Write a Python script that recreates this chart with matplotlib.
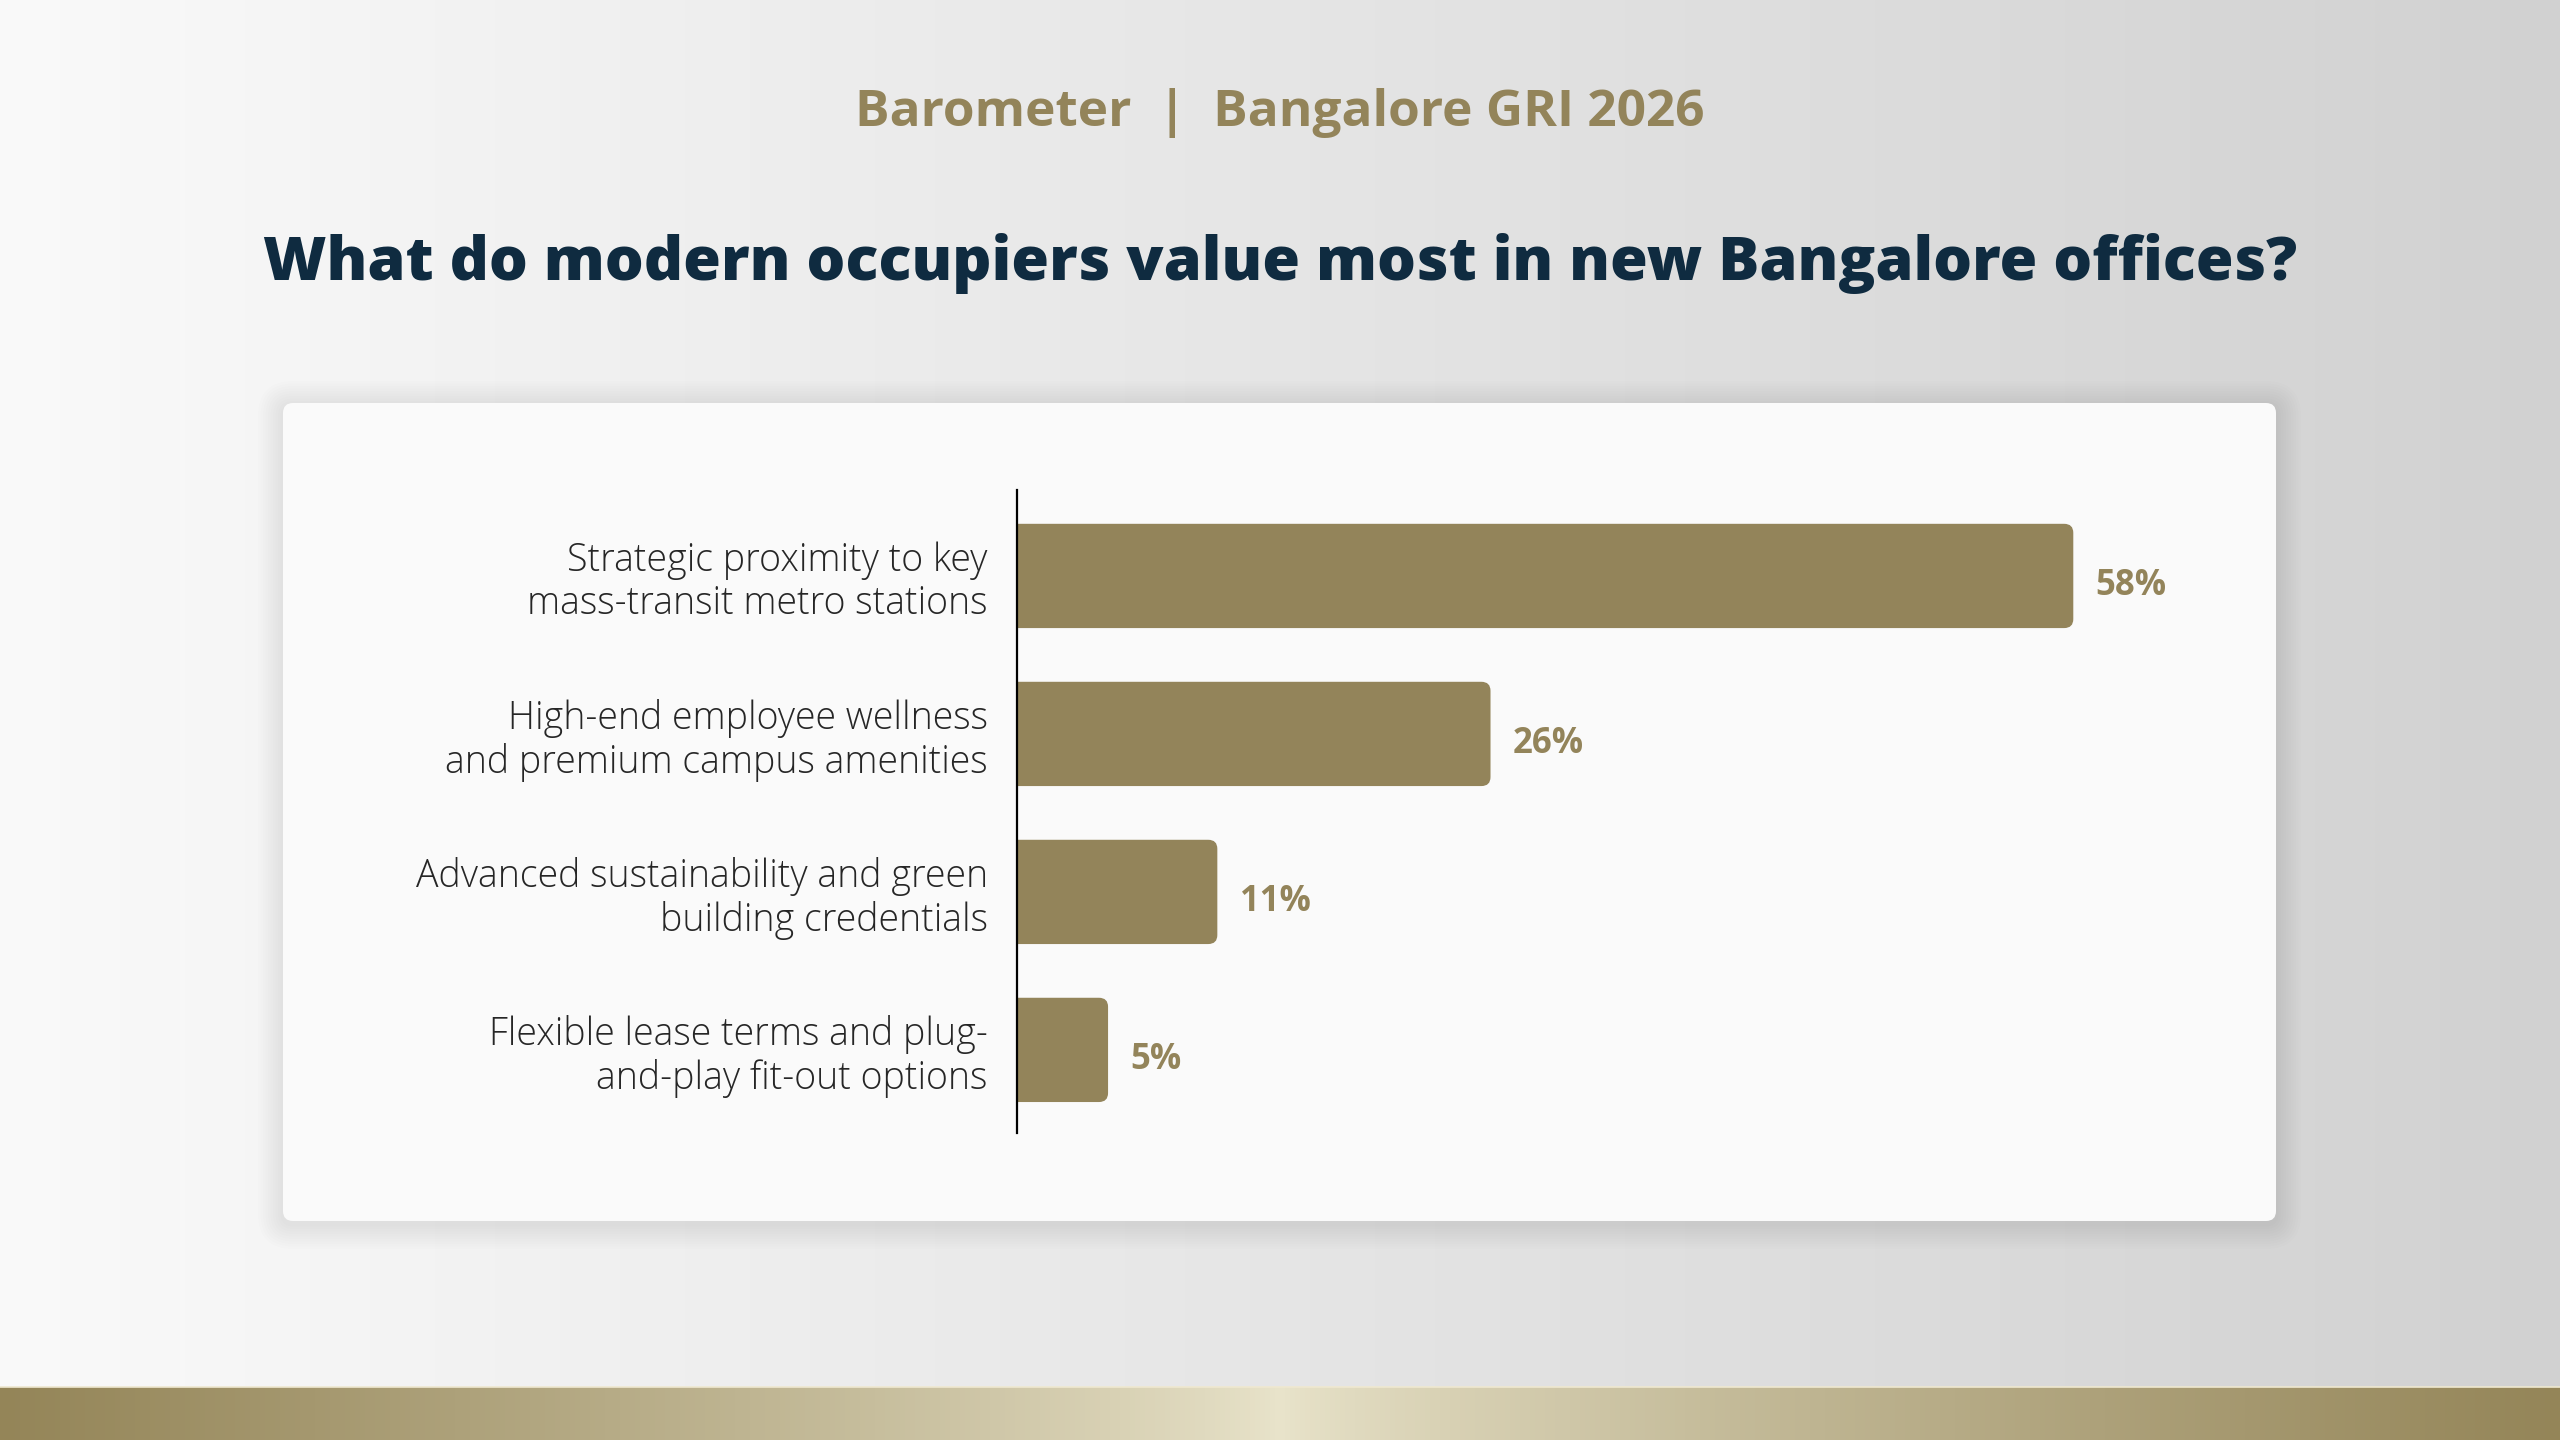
import numpy as np
import matplotlib
matplotlib.use("Agg")
import matplotlib.pyplot as plt
from matplotlib.patches import FancyBboxPatch

# data
categories = [
    "Strategic proximity to key\nmass-transit metro stations",
    "High-end employee wellness\nand premium campus amenities",
    "Advanced sustainability and green\nbuilding credentials",
    "Flexible lease terms and plug-\nand-play fit-out options",
]
values = [58, 26, 11, 5]
value_labels = ["58%", "26%", "11%", "5%"]

subtitle = "Barometer  |  Bangalore GRI 2026"
title = "What do modern occupiers value most in new Bangalore offices?"

GOLD = "#93845A"
NAVY = "#0F2B40"
TEXT = "#262626"
FONT = ["Open Sans", "DejaVu Sans"]

plt.rcParams["font.family"] = FONT

W, H = 2560, 1440
fig = plt.figure(figsize=(25.6, 14.4), dpi=100)

# full-figure background axes in pixel coords
bg = fig.add_axes([0, 0, 1, 1])
bg.set_xlim(0, W)
bg.set_ylim(H, 0)
bg.axis("off")

t = np.linspace(0, 1, 512)
c0 = np.array([0.98, 0.98, 0.98])
c1 = np.array([0.82, 0.82, 0.82])
img = c0 + (c1 - c0) * t[:, None]
bg.imshow(img[None, :, :], extent=[0, W, H, 0], aspect="auto", zorder=0)

# bottom gold band
edge = np.array([0x94, 0x85, 0x58]) / 255
mid = np.array([0xE9, 0xE4, 0xCB]) / 255
d = np.abs(t - 0.5) * 2
band = mid + (edge - mid) * d[:, None] ** 0.8
bg.imshow(band[None, :, :], extent=[0, W, H, 1387], aspect="auto", zorder=1)
bg.plot([0, W], [1387, 1387], color="#EFE8D0", lw=1.2, zorder=2)

# card with soft shadow
cx, cy, cw, ch = 283, 403, 1993, 818
for i in range(10):
    g = 2.5 * (i + 1)
    bg.add_patch(FancyBboxPatch((cx - g, cy - g + 3), cw + 2 * g, ch + 2 * g,
                                boxstyle=f"round,pad=0,rounding_size={10 + g}",
                                fc="black", ec="none", alpha=0.007, zorder=2))
bg.add_patch(FancyBboxPatch((cx, cy), cw, ch, boxstyle="round,pad=0,rounding_size=10",
                            fc="#FAFAFA", ec="none", zorder=3))

bg.text(W / 2, 113, subtitle, ha="center", va="center", fontsize=37,
        fontweight="bold", color=GOLD, zorder=4)
bg.text(W / 2, 263, title, ha="center", va="center", fontsize=44,
        fontweight="heavy", color=NAVY, zorder=4)

# bar chart
ax = fig.add_axes([1017 / W, (H - 1133) / H, 1100 / W, 643 / H])
ax.patch.set_visible(False)
ypos = np.arange(len(values))
bars = ax.barh(ypos, values, height=0.66, color=GOLD)
ax.set_xlim(0, 60.4)
ax.set_ylim(3.526, -0.544)

for bar in bars:
    x, y = bar.get_xy()
    w, h = bar.get_width(), bar.get_height()
    bar.set_visible(False)
    ax.add_patch(FancyBboxPatch((x - 1, y), w + 1, h,
                                boxstyle="round,pad=0,rounding_size=0.5",
                                mutation_aspect=0.114, fc=GOLD, ec="none"))

for i, (v, lbl) in enumerate(zip(values, value_labels)):
    ax.annotate(lbl, xy=(v, i), xytext=(16, -4), textcoords="offset points",
                ha="left", va="center_baseline", fontsize=25, fontweight="bold", color=GOLD)

ax.set_yticks(ypos)
ax.set_yticklabels(categories, fontsize=27, color=TEXT, linespacing=1.14,
                   fontweight="light")
ax.tick_params(axis="y", length=0, pad=21)
ax.set_xticks([])
for s in ["top", "right", "bottom"]:
    ax.spines[s].set_visible(False)
ax.spines["left"].set_linewidth(1.6)
ax.spines["left"].set_color("black")

fig.savefig("out.png", dpi=100)
